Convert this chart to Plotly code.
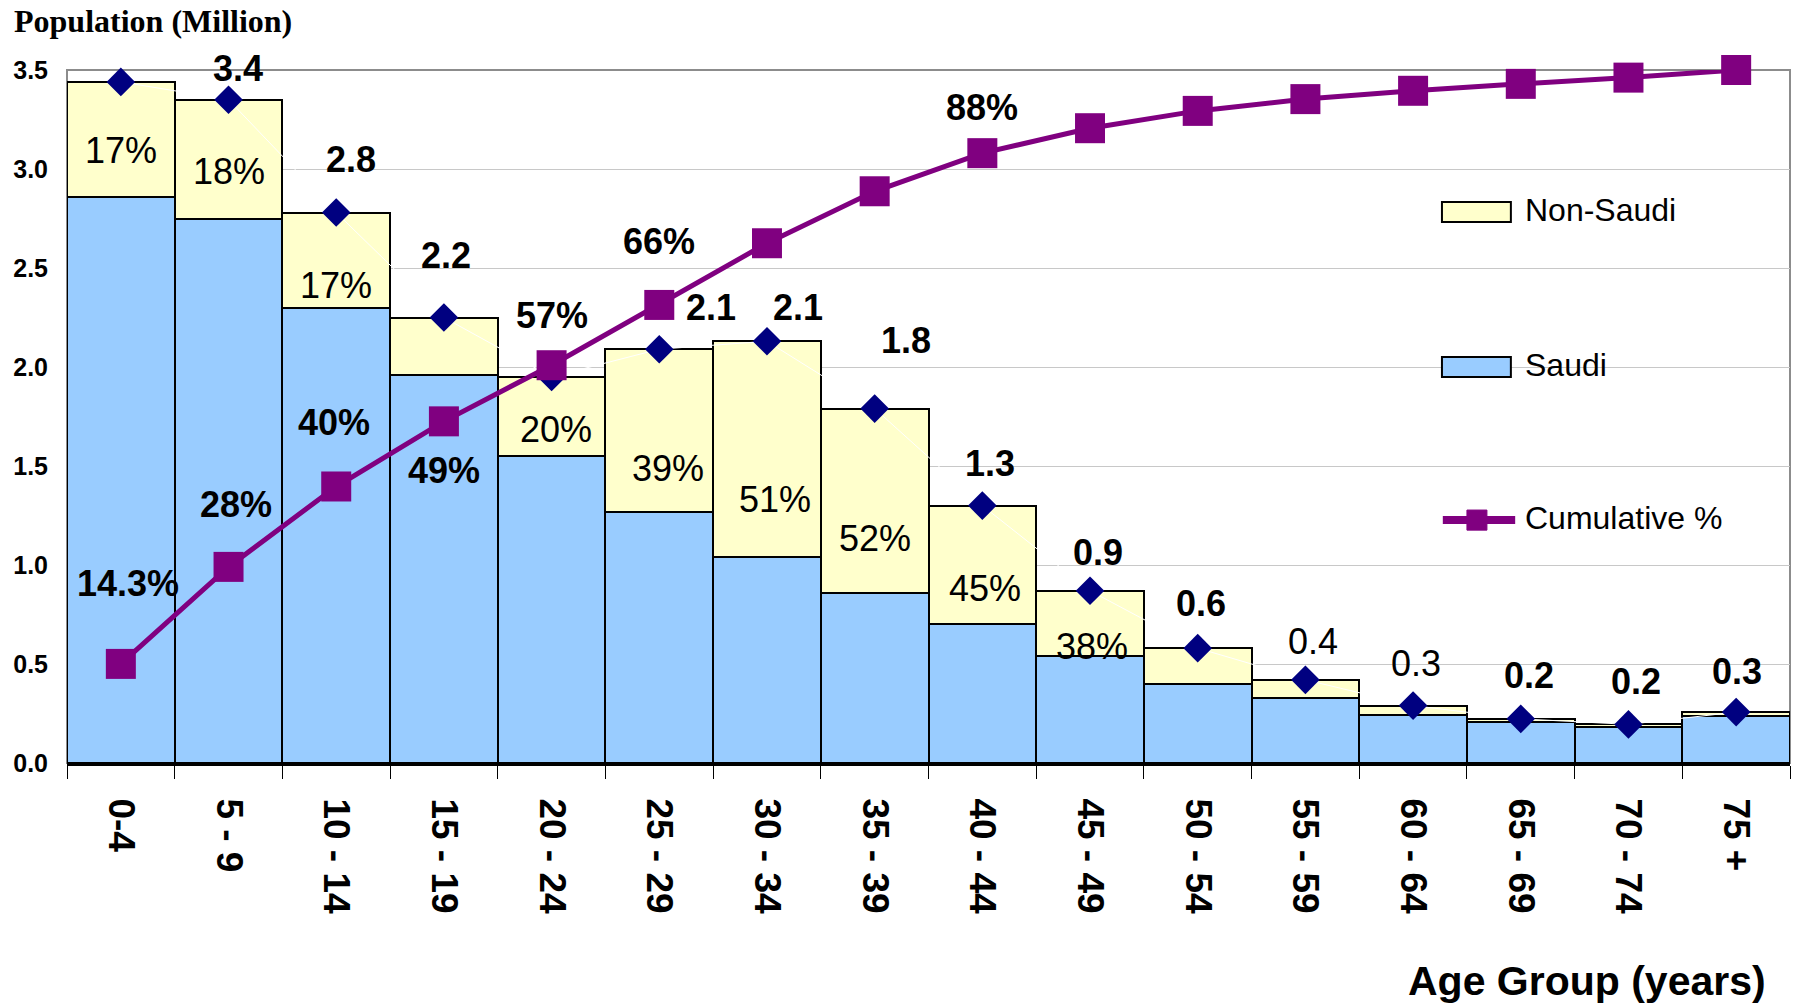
import plotly.graph_objects as go

# ---------------- data ----------------
age_groups = ["0-4", "5 - 9", "10 - 14", "15 - 19", "20 - 24", "25 - 29", "30 - 34",
              "35 - 39", "40 - 44", "45 - 49", "50 - 54", "55 - 59", "60 - 64",
              "65 - 69", "70 - 74", "75 +"]
saudi = [2.86, 2.75, 2.30, 1.96, 1.55, 1.27, 1.04, 0.86, 0.70, 0.54, 0.40, 0.33, 0.24, 0.205, 0.18, 0.235]
non_saudi = [0.58, 0.60, 0.48, 0.29, 0.40, 0.82, 1.09, 0.93, 0.60, 0.33, 0.18, 0.09, 0.05, 0.018, 0.015, 0.022]
cumulative_pct = [14.3, 28.3, 39.9, 49.3, 57.4, 66.1, 75.0, 82.5, 88.0, 91.6, 94.1, 95.8, 97.0, 98.0, 98.9, 100.0]

total_labels = ["", "3.4", "2.8", "2.2", "", "2.1", "2.1", "1.8", "1.3", "0.9", "0.6", "0.4", "0.3", "0.2", "0.2", "0.3"]
share_labels = ["17%", "18%", "17%", "", "20%", "39%", "51%", "52%", "45%", "38%", "", "", "", "", "", ""]
cum_labels = ["14.3%", "28%", "40%", "49%", "57%", "66%", "", "", "88%", "", "", "", "", "", "", ""]
y_ticks = [0.0, 0.5, 1.0, 1.5, 2.0, 2.5, 3.0, 3.5]

# ---------------- label placement / style (pixels) ----------------
total_bold = [True] * 11 + [False, False, True, True, True]
total_shift = [(0, 0), (9, 31), (15, 53), (2, 62), (0, 0), (52, 42), (31, 34), (31, 68), (8, 42),
               (8, 38), (3, 45), (8, 38), (3, 42), (8, 43), (8, 43), (1, 41)]
cum_shift = [(7, 80), (7, 62), (-2, 64), (0, -49), (0, 50), (0, 63), (0, 0), (0, 0), (0, 46),
             (0, 0), (0, 0), (0, 0), (0, 0), (0, 0), (0, 0), (0, 0)]
share_shift = [(0, -11), (0, -12), (0, -25), (0, 0), (4, -13), (9, -38), (8, -50), (0, -38), (3, -23),
               (2, -23), (0, 0), (0, 0), (0, 0), (0, 0), (0, 0), (0, 0)]

FONT = "Liberation Sans, Arial, sans-serif"
totals = [s + n for s, n in zip(saudi, non_saudi)]

fig = go.Figure()
fig.add_trace(go.Bar(x=age_groups, y=saudi, name="Saudi",
                     marker=dict(color="#99CCFF", line=dict(color="black", width=2))))
fig.add_trace(go.Bar(x=age_groups, y=non_saudi, name="Non-Saudi",
                     marker=dict(color="#FFFFCC", line=dict(color="black", width=2))))
fig.add_trace(go.Scatter(x=age_groups, y=totals, mode="lines+markers", name="Total",
                         line=dict(color="white", width=1), cliponaxis=False,
                         marker=dict(symbol="diamond", size=22, color="#000080")))
fig.add_trace(go.Scatter(x=age_groups, y=cumulative_pct, mode="lines+markers", name="Cumulative %",
                         yaxis="y2", line=dict(color="#800080", width=5), cliponaxis=False,
                         marker=dict(symbol="square", size=30, color="#800080")))

annotations = []
for i, g in enumerate(age_groups):
    if total_labels[i]:
        annotations.append(dict(x=g, y=totals[i], text=total_labels[i], showarrow=False,
                                xshift=total_shift[i][0], yshift=total_shift[i][1],
                                font=dict(family=FONT, size=36, color="black",
                                          weight="bold" if total_bold[i] else "normal")))
    if share_labels[i]:
        annotations.append(dict(x=g, y=saudi[i] + non_saudi[i] / 2, text=share_labels[i], showarrow=False,
                                xshift=share_shift[i][0], yshift=share_shift[i][1],
                                font=dict(family=FONT, size=36, color="black")))
    if cum_labels[i]:
        annotations.append(dict(x=g, y=cumulative_pct[i], yref="y2", text=cum_labels[i], showarrow=False,
                                xshift=cum_shift[i][0], yshift=cum_shift[i][1],
                                font=dict(family=FONT, size=36, color="black", weight="bold")))

# axis titles
annotations.append(dict(xref="paper", yref="paper", x=-0.0319, y=1.071, xanchor="left", yanchor="middle",
                        text="Population (Million)", showarrow=False,
                        font=dict(family="Liberation Serif, Times New Roman, serif", size=32,
                                  color="black", weight="bold")))
annotations.append(dict(xref="paper", yref="paper", x=0.987, y=-0.315, xanchor="right", yanchor="middle",
                        text="Age Group (years)", showarrow=False,
                        font=dict(family=FONT, size=41, color="black", weight="bold")))

# manual legend (paper coords)
leg_items = [("Non-Saudi", 0.798), ("Saudi", 0.574), ("Cumulative %", 0.3535)]
for name, yy in leg_items:
    annotations.append(dict(xref="paper", yref="paper", x=0.845, y=yy, xanchor="left", yanchor="middle",
                            text=name, showarrow=False, font=dict(family=FONT, size=32, color="black")))

shapes = [
    # legend white background
    dict(type="rect", xref="paper", yref="paper", x0=0.7307, x1=0.9264, y0=0.235, y1=0.88,
         fillcolor="white", line=dict(width=0), layer="between"),
    # plot border
    dict(type="rect", xref="paper", yref="paper", x0=0, x1=1, y0=0, y1=1,
         line=dict(color="#8c8c8c", width=2), layer="between"),
    # legend swatches
    dict(type="rect", xref="paper", yref="paper", x0=0.798, x1=0.838, y0=0.7807, y1=0.8095,
         fillcolor="#FFFFCC", line=dict(color="black", width=2), layer="above"),
    dict(type="rect", xref="paper", yref="paper", x0=0.798, x1=0.838, y0=0.557, y1=0.5859,
         fillcolor="#99CCFF", line=dict(color="black", width=2), layer="above"),
    dict(type="line", xref="paper", yref="paper", x0=0.7985, x1=0.8405, y0=0.3506, y1=0.3506,
         line=dict(color="#800080", width=8), layer="above"),
    dict(type="rect", xref="paper", yref="paper", x0=0.8125, x1=0.8241, y0=0.336, y1=0.365,
         fillcolor="#800080", line=dict(color="#800080", width=1), layer="above"),
]

fig.update_layout(
    width=1795, height=1006,
    margin=dict(l=67, r=5, t=70, b=243),
    paper_bgcolor="white", plot_bgcolor="white",
    barmode="stack", bargap=0,
    showlegend=False,
    font=dict(family=FONT, color="black"),
    xaxis=dict(type="category", range=[-0.5, 15.5], tickangle=90, ticks="outside", tickson="boundaries",
               ticklen=13, tickwidth=1, tickcolor="black",
               showline=True, linecolor="black", linewidth=3,
               showgrid=False, ticklabelstandoff=25,
               tickfont=dict(family=FONT, size=37, color="black", weight="bold")),
    yaxis=dict(range=[0, 3.5], tickvals=y_ticks, tickformat=".1f",
               showgrid=True, gridcolor="#c8c8c8", gridwidth=1,
               showline=False, zeroline=False, ticks="", ticklabelstandoff=18,
               tickfont=dict(family=FONT, size=25, color="black", weight="bold")),
    yaxis2=dict(range=[0, 100], overlaying="y", side="right", visible=False, showgrid=False),
    annotations=annotations,
    shapes=shapes,
)

fig.write_html("out.html", config={"displayModeBar": False},
               post_script="document.body.style.margin='0px';")
